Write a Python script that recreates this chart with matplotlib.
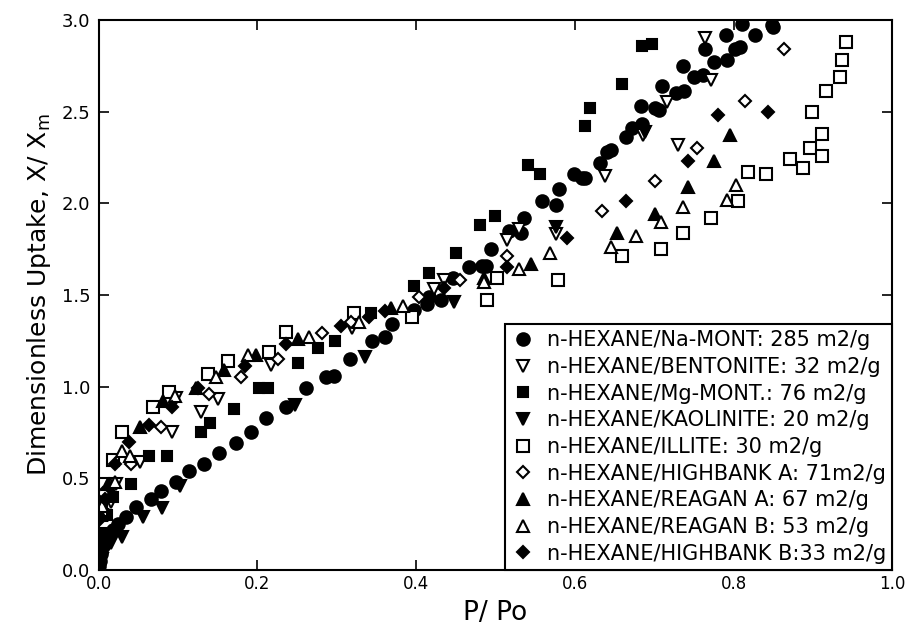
import matplotlib
matplotlib.use('Agg')
import matplotlib.pyplot as plt

# n-HEXANE / Na-MONT (filled circle)
na_x = [0.001, 0.002, 0.003, 0.005, 0.008, 0.012, 0.018, 0.025, 0.035, 0.047, 0.066, 0.079, 0.098, 0.114,
        0.133, 0.152, 0.173, 0.192, 0.211, 0.236, 0.261, 0.286, 0.297, 0.317, 0.345, 0.361, 0.370, 0.397,
        0.414, 0.416, 0.431, 0.446, 0.467, 0.483, 0.488, 0.494, 0.517, 0.532, 0.536, 0.559, 0.576, 0.580,
        0.599, 0.609, 0.613, 0.632, 0.641, 0.646, 0.664, 0.672, 0.685, 0.683, 0.701, 0.706, 0.710, 0.727,
        0.737, 0.736, 0.750, 0.762, 0.764, 0.775, 0.792, 0.790, 0.802, 0.808, 0.810, 0.827, 0.848, 0.850]
na_y = [0.02, 0.05, 0.09, 0.13, 0.16, 0.19, 0.22, 0.25, 0.29, 0.345, 0.39, 0.43, 0.48, 0.54,
        0.58, 0.64, 0.69, 0.75, 0.83, 0.89, 0.99, 1.05, 1.06, 1.15, 1.25, 1.27, 1.34, 1.42,
        1.45, 1.49, 1.47, 1.59, 1.65, 1.66, 1.66, 1.75, 1.85, 1.84, 1.92, 2.01, 1.99, 2.08,
        2.16, 2.14, 2.14, 2.22, 2.28, 2.29, 2.36, 2.41, 2.43, 2.53, 2.52, 2.51, 2.64, 2.60,
        2.61, 2.75, 2.69, 2.70, 2.84, 2.77, 2.78, 2.92, 2.84, 2.85, 2.98, 2.92, 2.97, 2.96]

# n-HEXANE / BENTONITE (open down triangle)
ben_x = [0.004, 0.016, 0.022, 0.052, 0.093, 0.098, 0.129, 0.150, 0.217, 0.319, 0.423, 0.435,
         0.515, 0.530, 0.576, 0.638, 0.686, 0.716, 0.730, 0.764, 0.771]
ben_y = [0.30, 0.37, 0.47, 0.59, 0.75, 0.94, 0.86, 0.93, 1.12, 1.32, 1.53, 1.58,
         1.80, 1.86, 1.83, 2.15, 2.37, 2.55, 2.32, 2.90, 2.67]

# n-HEXANE / Mg-MONT. (filled square)
mg_x = [0.003, 0.010, 0.018, 0.041, 0.063, 0.086, 0.129, 0.140, 0.171, 0.202, 0.213, 0.251, 0.276,
        0.298, 0.343, 0.397, 0.416, 0.450, 0.481, 0.500, 0.541, 0.556, 0.613, 0.619, 0.660, 0.685, 0.697]
mg_y = [0.20, 0.30, 0.40, 0.47, 0.62, 0.62, 0.75, 0.80, 0.88, 0.99, 0.99, 1.13, 1.21,
        1.25, 1.40, 1.55, 1.62, 1.73, 1.88, 1.93, 2.21, 2.16, 2.42, 2.52, 2.65, 2.86, 2.87]

# n-HEXANE / KAOLINITE (filled down triangle)
kao_x = [0.001, 0.004, 0.008, 0.015, 0.029, 0.056, 0.080, 0.102, 0.247, 0.336, 0.448, 0.576, 0.689]
kao_y = [0.02, 0.06, 0.11, 0.15, 0.18, 0.29, 0.34, 0.46, 0.90, 1.16, 1.46, 1.87, 2.39]

# n-HEXANE / ILLITE (open square)
ill_x = [0.003, 0.005, 0.018, 0.029, 0.068, 0.089, 0.138, 0.163, 0.215, 0.236, 0.322, 0.395, 0.489,
         0.502, 0.579, 0.660, 0.709, 0.736, 0.771, 0.806, 0.818, 0.841, 0.871, 0.888, 0.896, 0.911,
         0.911, 0.899, 0.917, 0.934, 0.936, 0.941]
ill_y = [0.33, 0.47, 0.60, 0.75, 0.89, 0.97, 1.07, 1.14, 1.19, 1.30, 1.40, 1.38, 1.47,
         1.59, 1.58, 1.71, 1.75, 1.84, 1.92, 2.01, 2.17, 2.16, 2.24, 2.19, 2.30, 2.26,
         2.38, 2.50, 2.61, 2.69, 2.78, 2.88]

# n-HEXANE / HIGHBANK A (open diamond)
hba_x = [0.006, 0.041, 0.079, 0.139, 0.179, 0.226, 0.281, 0.318, 0.404, 0.455, 0.515, 0.634, 0.701,
         0.754, 0.814, 0.864]
hba_y = [0.42, 0.58, 0.78, 0.96, 1.05, 1.15, 1.29, 1.35, 1.49, 1.58, 1.71, 1.96, 2.12,
         2.30, 2.56, 2.84]

# n-HEXANE / REAGAN A (filled triangle)
rga_x = [0.003, 0.012, 0.052, 0.081, 0.123, 0.158, 0.198, 0.251, 0.368, 0.486, 0.545, 0.653, 0.701,
         0.743, 0.775, 0.796]
rga_y = [0.30, 0.47, 0.78, 0.92, 0.99, 1.09, 1.17, 1.26, 1.43, 1.59, 1.67, 1.84, 1.94,
         2.09, 2.23, 2.37]

# n-HEXANE / REAGAN B (open triangle)
rgb_x = [0.004, 0.020, 0.029, 0.040, 0.096, 0.148, 0.188, 0.265, 0.328, 0.383, 0.486, 0.529, 0.569,
         0.646, 0.677, 0.708, 0.736, 0.792, 0.803]
rgb_y = [0.35, 0.48, 0.65, 0.62, 0.95, 1.05, 1.17, 1.27, 1.35, 1.44, 1.57, 1.64, 1.73,
         1.76, 1.82, 1.90, 1.98, 2.02, 2.10]

# n-HEXANE / HIGHBANK B (filled diamond)
hbb_x = [0.002, 0.008, 0.020, 0.038, 0.063, 0.093, 0.125, 0.184, 0.236, 0.305, 0.341, 0.361, 0.435,
         0.515, 0.590, 0.665, 0.742, 0.780, 0.843]
hbb_y = [0.28, 0.39, 0.58, 0.70, 0.79, 0.89, 0.99, 1.11, 1.23, 1.33, 1.38, 1.41, 1.54,
         1.65, 1.81, 2.01, 2.23, 2.48, 2.50]

labels = ['n-HEXANE/Na-MONT: 285 m2/g',
          'n-HEXANE/BENTONITE: 32 m2/g',
          'n-HEXANE/Mg-MONT.: 76 m2/g',
          'n-HEXANE/KAOLINITE: 20 m2/g',
          'n-HEXANE/ILLITE: 30 m2/g',
          'n-HEXANE/HIGHBANK A: 71m2/g',
          'n-HEXANE/REAGAN A: 67 m2/g',
          'n-HEXANE/REAGAN B: 53 m2/g',
          'n-HEXANE/HIGHBANK B:33 m2/g']

series = [(na_x, na_y, 'o', True, 9),
          (ben_x, ben_y, 'v', False, 8),
          (mg_x, mg_y, 's', True, 7),
          (kao_x, kao_y, 'v', True, 8),
          (ill_x, ill_y, 's', False, 8),
          (hba_x, hba_y, 'D', False, 6.5),
          (rga_x, rga_y, '^', True, 8),
          (rgb_x, rgb_y, '^', False, 8),
          (hbb_x, hbb_y, 'D', True, 6.5)]

plt.rcParams['font.family'] = 'DejaVu Sans'
fig = plt.figure(figsize=(9.05, 6.33), dpi=100)
ax = fig.add_axes([0.109, 0.0995, 0.877, 0.869])

for (xs, ys, m, filled, ms), lab in zip(series, labels):
    ax.plot(xs, ys, linestyle='none', marker=m, markersize=ms,
            markerfacecolor='black' if filled else 'white',
            markeredgecolor='black', markeredgewidth=1.5, label=lab)

ax.set_xlim(0, 1.0)
ax.set_ylim(0, 3.0)
ax.set_xticks([0.0, 0.2, 0.4, 0.6, 0.8, 1.0])
ax.set_yticks([0.0, 0.5, 1.0, 1.5, 2.0, 2.5, 3.0])
ax.set_xticklabels(['0.0', '0.2', '0.4', '0.6', '0.8', '1.0'])
ax.set_yticklabels(['0.0', '0.5', '1.0', '1.5', '2.0', '2.5', '3.0'])
ax.tick_params(direction='in', top=True, right=True, length=7, width=1.2, labelsize=13)
ax.tick_params(axis='x', labelsize=12)
ax.tick_params(axis='y', pad=6)
for s in ax.spines.values():
    s.set_linewidth(1.5)

ax.set_xlabel('P/ Po', fontsize=19, labelpad=5)
ax.set_ylabel(r'Dimensionless Uptake, X/ X$_\mathregular{m}$', fontsize=18, labelpad=6)

leg = ax.legend(loc='lower right', borderaxespad=0, fontsize=15, frameon=True,
                fancybox=False, edgecolor='black', handletextpad=0.6, labelspacing=0.32,
                handlelength=1.1, borderpad=0.3)
leg.get_frame().set_linewidth(1.5)
leg.get_frame().set_alpha(1)

plt.savefig('out.png', dpi=100)
